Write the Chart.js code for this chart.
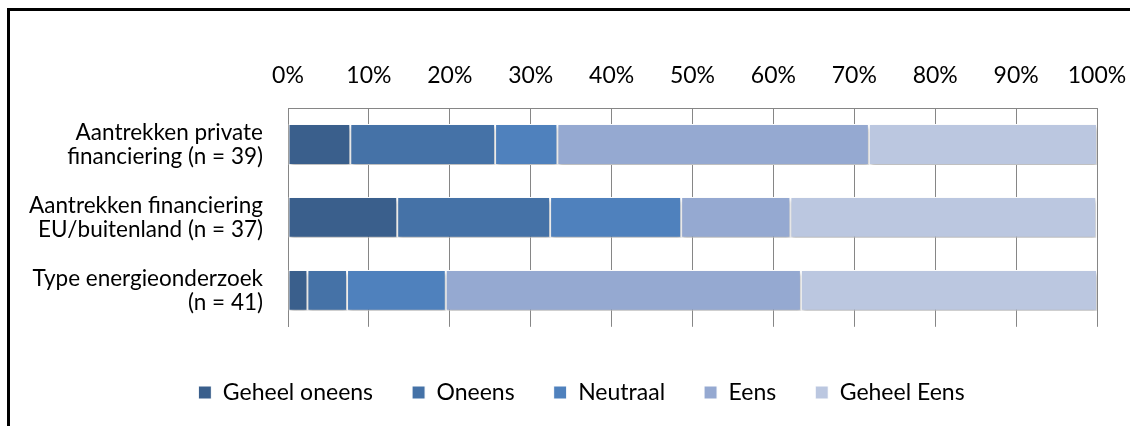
<!DOCTYPE html>
<html>
<head>
<meta charset="utf-8">
<script src="https://cdn.jsdelivr.net/npm/chart.js@4/dist/chart.umd.min.js"></script>
<style>
  html, body { margin: 0; padding: 0; background: #fff; }
  #wrap { position: relative; width: 1130px; height: 426px; overflow: hidden; }
  #frame {
    position: absolute; left: 7px; top: 8px; right: -10px; bottom: -10px;
    border-left: 3px solid #000; border-top: 3px solid #000;
  }
  #chart { position: absolute; left: 0; top: 0; }
</style>
</head>
<body>
<div id="wrap">
  <div id="frame"></div>
  <canvas id="chart" width="1130" height="426"></canvas>
</div>
<script>
// Survey answers per statement, as share of respondents (%)
const categories = [
  ['Aantrekken private', 'financiering (n = 39)'],
  ['Aantrekken financiering', 'EU/buitenland (n = 37)'],
  ['Type energieonderzoek', '(n = 41)'],
];
const answerLabels = ['Geheel oneens', 'Oneens', 'Neutraal', 'Eens', 'Geheel Eens'];
const geheelOneens = [7.7, 13.5, 2.4];
const oneens       = [17.9, 18.9, 4.9];
const neutraal     = [7.7, 16.2, 12.2];
const eens         = [38.5, 13.5, 43.9];
const geheelEens   = [28.2, 37.8, 36.6];
const colors = ['#3a5f8c', '#4572a7', '#4f81bd', '#95a9d1', '#bbc7e0'];

const FONT = 'Lato, "Open Sans", sans-serif';

// soft drop shadow under the bar segments
const barShadow = {
  id: 'barShadow',
  beforeDatasetsDraw(chart) {
    const c = chart.ctx;
    c.save();
    c.shadowColor = 'rgba(0,0,0,0.28)';
    c.shadowBlur = 4;
    c.shadowOffsetX = 1;
    c.shadowOffsetY = 3;
  },
  afterDatasetsDraw(chart) {
    chart.ctx.restore();
  }
};

// nudge the legend row to the right of the page centre
const legendShift = {
  id: 'legendShift',
  afterLayout(chart) {
    if (chart.legend) {
      chart.legend.left += 33;
      chart.legend.right += 33;
    }
  }
};

const series = [geheelOneens, oneens, neutraal, eens, geheelEens];

new Chart(document.getElementById('chart'), {
  type: 'bar',
  data: {
    labels: categories,
    datasets: series.map((d, i) => ({
      label: answerLabels[i],
      data: d,
      backgroundColor: colors[i],
      borderColor: '#ffffff',
      borderWidth: 1,
      borderSkipped: false,
      categoryPercentage: 1,
      barPercentage: 0.56,
    })),
  },
  options: {
    indexAxis: 'y',
    responsive: false,
    animation: false,
    layout: { padding: { left: 0, right: 33, top: 0, bottom: 12 } },
    plugins: {
      tooltip: { enabled: false },
      legend: {
        position: 'bottom',
        align: 'center',
        title: { display: true, text: ' ', font: { size: 1 }, padding: { top: 14, bottom: 0 } },
        labels: {
          color: '#000',
          font: { family: FONT, size: 23 },
          boxWidth: 13,
          boxHeight: 13,
          padding: 39,
        },
      },
    },
    scales: {
      x: {
        position: 'top',
        stacked: true,
        min: 0,
        max: 100,
        ticks: {
          stepSize: 10,
          color: '#000',
          font: { family: FONT, size: 23 },
          padding: 19,
          callback: v => v + '%',
        },
        grid: { color: '#868686', lineWidth: 1, drawTicks: false },
        border: { display: true, color: '#868686', width: 1 },
        afterFit(scale) {
          scale.height = 108;
          scale.paddingLeft = 0;
          scale.paddingRight = 0;
        },
      },
      y: {
        stacked: true,
        ticks: {
          color: '#000',
          font: { family: FONT, size: 22.5, lineHeight: 1.07 },
          padding: 25,
        },
        grid: { display: false, drawTicks: false },
        border: { display: true, color: '#868686', width: 1 },
        afterFit(scale) { scale.width = 288; },
      },
    },
  },
  plugins: [barShadow, legendShift],
});
</script>
</body>
</html>
